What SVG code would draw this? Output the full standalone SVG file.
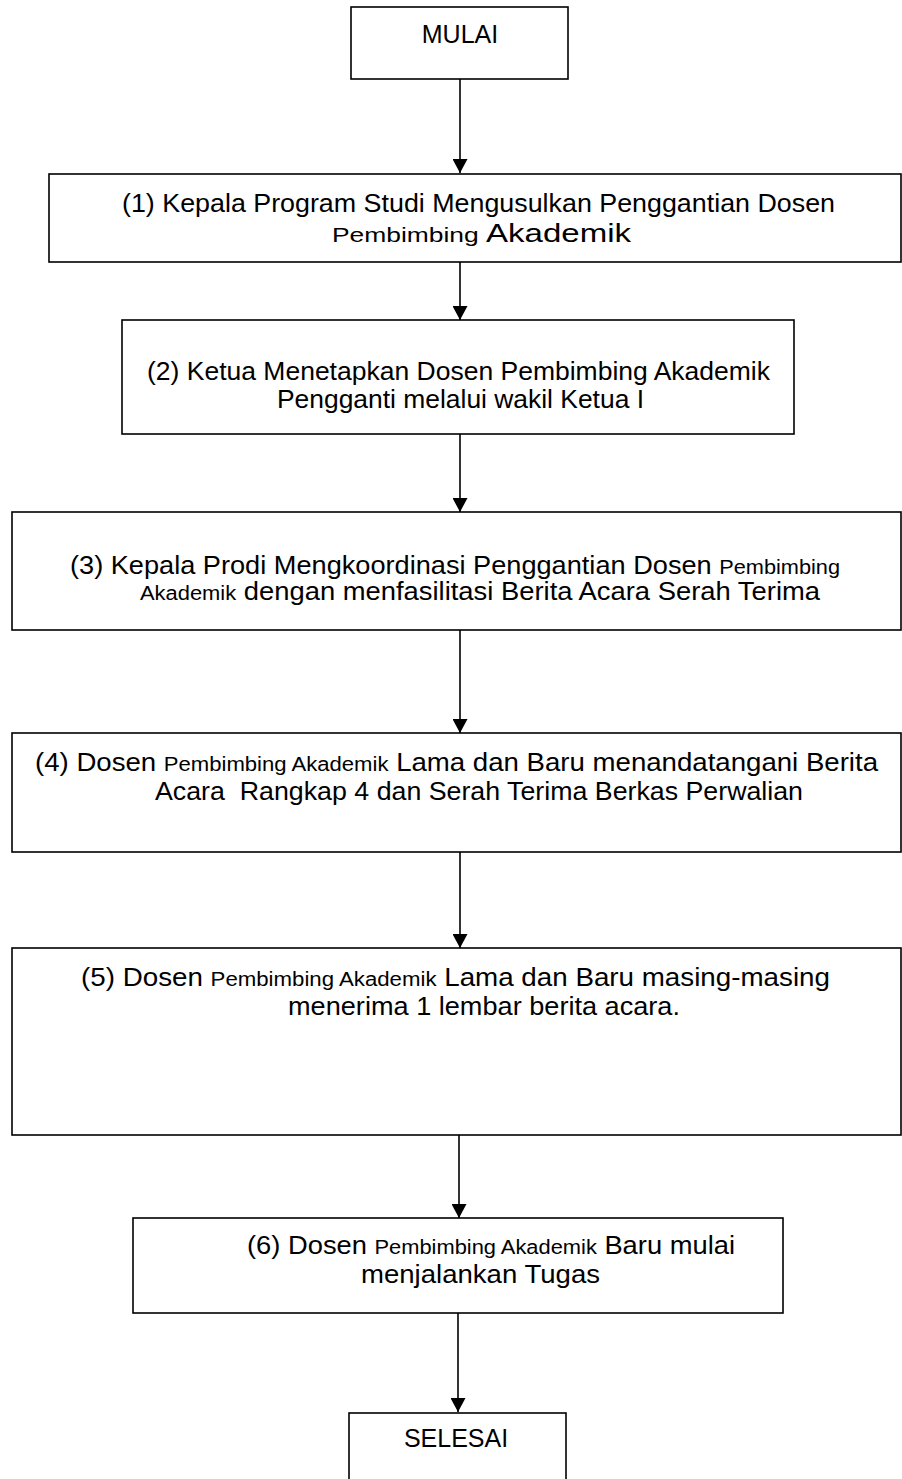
<svg xmlns="http://www.w3.org/2000/svg" width="902" height="1479" viewBox="0 0 902 1479">
<style>
.box{fill:#fff;stroke:#000;stroke-width:1.6}
.t{font-family:"Liberation Sans",Arial,sans-serif;font-size:25px;fill:#000}
.s{font-size:20px}
.c{stroke:#000;stroke-width:1.6;fill:none}
</style>
<defs>
<marker id="ah" markerWidth="14" markerHeight="15" refX="14" refY="7.5" orient="auto" markerUnits="userSpaceOnUse" viewBox="0 0 14 15">
<path d="M0,0 L14,7.5 L0,15 Z" fill="#000"/>
</marker>
</defs>
<rect width="902" height="1479" fill="#fff"/>
<g id="connectors">
<line class="c" x1="460" y1="79" x2="460" y2="173" marker-end="url(#ah)"/>
<line class="c" x1="460" y1="262" x2="460" y2="320" marker-end="url(#ah)"/>
<line class="c" x1="460" y1="434" x2="460" y2="512" marker-end="url(#ah)"/>
<line class="c" x1="460" y1="630" x2="460" y2="733" marker-end="url(#ah)"/>
<line class="c" x1="460" y1="852" x2="460" y2="948" marker-end="url(#ah)"/>
<line class="c" x1="459" y1="1135" x2="459" y2="1218" marker-end="url(#ah)"/>
<line class="c" x1="458" y1="1313" x2="458" y2="1412" marker-end="url(#ah)"/>
</g>
<g id="mulai">
<rect class="box" x="351" y="7" width="217" height="72"/>
<text class="t" x="460" y="43" text-anchor="middle" font-size="26">MULAI</text>
</g>
<g id="step1">
<rect class="box" x="49" y="174" width="852" height="88"/>
<text class="t" x="122" y="212" textLength="713" lengthAdjust="spacingAndGlyphs">(1) Kepala Program Studi Mengusulkan Penggantian Dosen</text>
<text class="t" x="332" y="242" textLength="299" lengthAdjust="spacingAndGlyphs"><tspan class="s">Pembimbing</tspan> Akademik</text>
</g>
<g id="step2">
<rect class="box" x="122" y="320" width="672" height="114"/>
<text class="t" x="147" y="380" textLength="623" lengthAdjust="spacingAndGlyphs">(2) Ketua Menetapkan Dosen Pembimbing Akademik</text>
<text class="t" x="277" y="408" textLength="367" lengthAdjust="spacingAndGlyphs">Pengganti melalui wakil Ketua I</text>
</g>
<g id="step3">
<rect class="box" x="12" y="512" width="889" height="118"/>
<text class="t" x="70" y="574" textLength="770" lengthAdjust="spacingAndGlyphs">(3) Kepala Prodi Mengkoordinasi Penggantian Dosen <tspan class="s">Pembimbing</tspan></text>
<text class="t" x="140" y="600" textLength="680" lengthAdjust="spacingAndGlyphs"><tspan class="s">Akademik</tspan> dengan menfasilitasi Berita Acara Serah Terima</text>
</g>
<g id="step4">
<rect class="box" x="12" y="733" width="889" height="119"/>
<text class="t" x="35" y="771" textLength="843" lengthAdjust="spacingAndGlyphs">(4) Dosen <tspan class="s">Pembimbing Akademik</tspan> Lama dan Baru menandatangani Berita</text>
<text class="t" x="155" y="800" textLength="648" lengthAdjust="spacingAndGlyphs" xml:space="preserve" style="white-space:pre">Acara  Rangkap 4 dan Serah Terima Berkas Perwalian</text>
</g>
<g id="step5">
<rect class="box" x="12" y="948" width="889" height="187"/>
<text class="t" x="81" y="986" textLength="749" lengthAdjust="spacingAndGlyphs">(5) Dosen <tspan class="s">Pembimbing Akademik</tspan> Lama dan Baru masing-masing</text>
<text class="t" x="288" y="1015" textLength="392" lengthAdjust="spacingAndGlyphs">menerima 1 lembar berita acara.</text>
</g>
<g id="step6">
<rect class="box" x="133" y="1218" width="650" height="95"/>
<text class="t" x="247" y="1254" textLength="488" lengthAdjust="spacingAndGlyphs">(6) Dosen <tspan class="s">Pembimbing Akademik</tspan> Baru mulai</text>
<text class="t" x="361" y="1283" textLength="239" lengthAdjust="spacingAndGlyphs">menjalankan Tugas</text>
</g>
<g id="selesai">
<rect class="box" x="349" y="1413" width="217" height="80"/>
<text class="t" x="456" y="1447" text-anchor="middle" font-size="25">SELESAI</text>
</g>
</svg>
